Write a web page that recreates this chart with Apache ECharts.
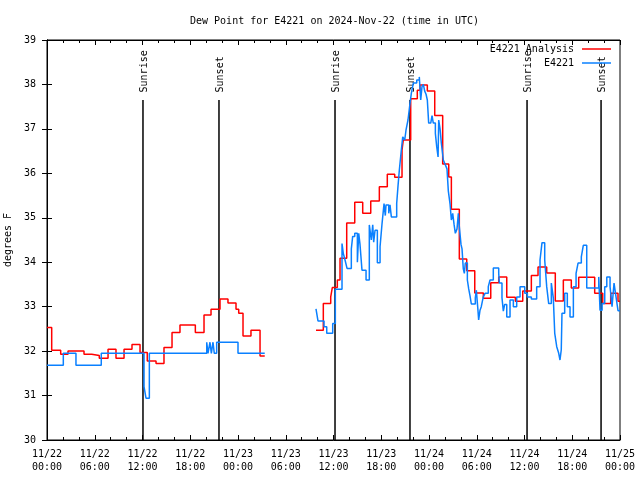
<!DOCTYPE html>
<html>
<head>
<meta charset="utf-8">
<script src="https://cdn.jsdelivr.net/npm/echarts@6/dist/echarts.min.js"></script>
<style>html,body{margin:0;padding:0;background:#fff;}#c{width:640px;height:480px;}</style>
</head>
<body>
<div id="c"></div>
<script>
// hours since 2024-11-22 00:00 UTC
const xTickLabels = ['11/22\n00:00','11/22\n06:00','11/22\n12:00','11/22\n18:00','11/23\n00:00','11/23\n06:00','11/23\n12:00','11/23\n18:00','11/24\n00:00','11/24\n06:00','11/24\n12:00','11/24\n18:00','11/25\n00:00'];

const sunTimes = [12.06, 21.61, 36.19, 45.61, 60.32, 69.62];
const sunLabels = ['Sunrise','Sunset','Sunrise','Sunset','Sunrise','Sunset'];

const redTimes1 = [0.0,0.59,1.72,2.64,4.65,5.62,6.57,7.67,8.67,9.68,10.68,11.69,12.6,13.7,14.7,15.71,16.71,18.64,19.73,20.61,21.74,22.74,23.75,24.09,24.63,25.63,26.77,27.36];
const redValues1 = [32.53,32.02,31.93,32.0,31.93,31.9,31.84,32.04,31.84,32.04,32.15,31.97,31.78,31.72,32.08,32.42,32.59,32.42,32.81,32.94,33.17,33.08,32.94,32.85,32.34,32.47,31.89,31.89];

const redTimes2 = [33.8,34.72,35.65,35.85,36.48,36.82,37.66,38.67,39.67,40.68,41.76,42.76,43.69,44.61,44.77,45.7,46.53,46.87,47.79,48.72,49.72,50.48,50.81,51.81,52.74,53.75,54.83,55.76,56.76,57.77,58.85,59.78,60.86,61.7,62.79,63.87,64.88,65.88,66.81,68.82,69.83,70.83,71.75,72.0];
const redValues2 = [32.47,33.07,33.22,33.43,33.6,34.09,34.88,35.35,35.1,35.38,35.7,35.98,35.91,36.52,36.75,37.68,37.87,37.99,37.85,37.3,36.21,35.92,35.19,34.07,33.81,33.31,33.19,33.54,33.67,33.21,33.12,33.35,33.7,33.89,33.76,33.13,33.6,33.42,33.66,33.3,33.07,33.3,33.12,33.12];

const blueTimes1 = [0.0,2.05,3.64,6.82,12.19,12.44,12.86,20.07,20.23,20.48,20.65,20.86,21.02,21.32,22.83,23.0,24.0,27.36];
const blueValues1 = [31.68,31.95,31.68,31.95,31.2,30.94,31.95,32.2,31.95,32.2,31.95,32.2,31.95,32.2,32.24,32.2,31.95,31.95];

const blueTimes2 = [33.8,34.05,34.81,35.15,35.9,36.23,37.07,37.23,37.45,37.7,38.24,38.41,38.67,39.0,39.17,39.33,39.58,40.09,40.5,40.75,40.93,41.05,41.22,41.51,41.85,42.1,42.35,42.51,42.6,42.94,43.1,43.27,43.94,44.1,44.27,44.52,44.7,44.95,45.11,45.36,45.61,45.78,46.03,46.46,46.78,46.96,47.12,47.29,47.46,47.63,47.79,47.96,48.22,48.38,48.54,48.8,48.97,49.14,49.22,49.39,49.55,49.8,50.01,50.26,50.43,50.65,50.81,50.98,51.15,51.31,51.52,51.69,51.81,52.02,52.15,52.31,52.44,52.56,52.82,52.99,53.15,53.32,53.82,53.95,54.16,54.24,54.41,54.57,54.82,55.04,55.45,55.67,56.08,56.76,56.84,57.17,57.34,57.51,57.77,58.18,58.6,59.02,59.44,60.03,60.36,60.86,61.53,61.95,62.2,62.54,62.79,63.04,63.37,63.62,63.8,64.05,64.3,64.46,64.62,64.71,65.05,65.38,65.72,66.14,66.48,66.73,67.14,67.39,67.82,69.33,69.49,69.75,70.08,70.34,70.75,71.0,71.25,71.5,71.75,72.0];
const blueValues2 = [32.95,32.68,32.55,32.4,32.62,33.39,34.42,34.2,34.05,33.86,34.3,34.58,34.65,34.0,34.65,34.4,33.82,33.6,34.84,34.5,34.84,34.45,34.72,33.99,34.35,34.87,35.32,35.05,35.29,35.1,35.29,35.02,35.32,35.7,36.07,36.52,36.82,36.75,36.97,37.2,37.57,37.8,38.03,38.1,38.17,37.65,37.95,38.0,37.85,37.78,37.65,37.13,37.13,37.3,37.13,36.9,36.6,36.37,37.2,37.0,36.68,36.3,36.21,36.1,35.6,35.3,34.95,35.1,34.85,34.65,34.75,35.1,34.8,34.4,34.3,33.85,33.75,33.98,33.6,33.4,33.25,33.06,33.2,33.37,32.9,32.7,32.92,33.0,33.22,33.3,33.45,33.6,33.87,33.75,33.53,33.2,32.9,33.05,32.77,33.15,33.0,33.22,33.45,33.3,33.22,33.17,33.45,34.05,34.44,34.05,33.45,33.07,33.53,33.2,32.4,32.1,31.95,31.8,32.03,32.85,33.3,33.0,32.77,33.45,33.75,33.98,34.12,34.38,33.42,33.67,32.92,33.07,33.45,33.67,33.45,33.0,33.53,33.22,32.91,32.91];

function pairs(ts, vs) { return ts.map((t, i) => [t, vs[i]]); }
// break the line right where the first segment ends (data gap)
function joinSegments(a, b) { return a.concat([[a[a.length - 1][0], null]], b); }

const redData = joinSegments(pairs(redTimes1, redValues1), pairs(redTimes2, redValues2));
const blueData = joinSegments(pairs(blueTimes1, blueValues1), pairs(blueTimes2, blueValues2));

const FONT = 'DejaVu Sans Mono';
const chart = echarts.init(document.getElementById('c'), null, {renderer: 'canvas'});

const axisCommon = {
  axisLine: {show: true, lineStyle: {color: '#000', width: 1}},
  splitLine: {show: false}
};

chart.setOption({
  animation: false,
  backgroundColor: '#fff',
  title: {
    text: 'Dew Point for E4221 on 2024-Nov-22 (time in UTC)',
    left: 185, top: 11,
    textStyle: {fontFamily: FONT, fontSize: 10, fontWeight: 'normal', color: '#000'}
  },
  legend: {
    data: [{name: 'E4221 Analysis', icon: 'rect'}, {name: 'E4221', icon: 'rect'}],
    orient: 'vertical', right: 24, top: 39, align: 'right',
    itemWidth: 29, itemHeight: 1.5, itemGap: 4,
    textStyle: {fontFamily: FONT, fontSize: 10, color: '#000', padding: [0, 3, 0, 0]}
  },
  grid: {left: 47, right: 20, top: 40, bottom: 40, show: true, borderColor: '#000', borderWidth: 1, containLabel: false, outerBoundsMode: 'none'},
  xAxis: [
    Object.assign({}, axisCommon, {
      type: 'value', min: 0, max: 72, interval: 6, position: 'bottom',
      axisTick: {show: true, inside: true, length: 5, lineStyle: {color: '#000'}},
      minorTick: {show: true, splitNumber: 3, length: 3, lineStyle: {color: '#000'}},
      axisLabel: {
        fontFamily: FONT, fontSize: 10, color: '#000', margin: 8, lineHeight: 13,
        formatter: v => xTickLabels[Math.round(v / 6)]
      }
    }),
    Object.assign({}, axisCommon, {
      type: 'value', min: 0, max: 72, interval: 6, position: 'top',
      axisTick: {show: true, inside: true, length: 5, lineStyle: {color: '#000'}},
      minorTick: {show: true, splitNumber: 3, length: 3, lineStyle: {color: '#000'}},
      axisLabel: {show: false}
    })
  ],
  yAxis: [
    Object.assign({}, axisCommon, {
      type: 'value', min: 30, max: 39, interval: 1, position: 'left',
      name: 'degrees F', nameLocation: 'middle', nameGap: 32, nameRotate: 90,
      nameTextStyle: {fontFamily: FONT, fontSize: 10, color: '#000'},
      axisTick: {show: true, inside: true, length: 5, lineStyle: {color: '#000'}},
      axisLabel: {fontFamily: FONT, fontSize: 10, color: '#000', margin: 11}
    }),
    Object.assign({}, axisCommon, {
      type: 'value', min: 30, max: 39, interval: 1, position: 'right',
      axisTick: {show: true, inside: true, length: 5, lineStyle: {color: '#000'}},
      axisLabel: {show: false}
    })
  ],
  series: [
    {
      type: 'custom', name: 'sun', xAxisIndex: 0, yAxisIndex: 0, silent: true, clip: false,
      data: sunTimes.map((t, i) => [t, 30, i]),
      renderItem: function (params, api) {
        const t = api.value(0);
        const i = api.value(2);
        const p0 = api.coord([t, 30]);
        const p1 = api.coord([t, 37.65]);
        const pt = api.coord([t, 37.82]);
        return {
          type: 'group',
          children: [
            {type: 'line', shape: {x1: p0[0], y1: p0[1], x2: p1[0], y2: p1[1]}, style: {stroke: '#000', lineWidth: 1.5}},
            {type: 'text', x: pt[0] + 1, y: pt[1], rotation: Math.PI / 2,
             style: {text: sunLabels[i], fill: '#000', font: '10px ' + FONT, align: 'left', verticalAlign: 'middle'}}
          ]
        };
      },
      z: 1
    },
    {
      type: 'line', name: 'E4221 Analysis', data: redData, step: 'end', symbol: 'none',
      connectNulls: false, lineStyle: {color: '#ff0000', width: 1.5}, itemStyle: {color: '#ff0000'}, z: 2
    },
    {
      type: 'line', name: 'E4221', data: blueData, step: 'end', symbol: 'none',
      connectNulls: false, lineStyle: {color: '#0a80ff', width: 1.5}, itemStyle: {color: '#0a80ff'}, z: 3
    }
  ]
});
</script>
</body>
</html>
